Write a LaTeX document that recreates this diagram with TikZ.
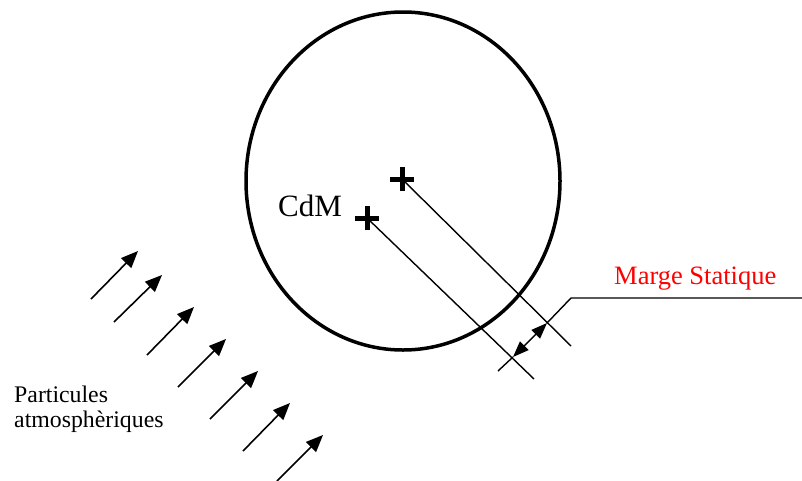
\documentclass[tikz,border=0pt]{standalone}
\usepackage{fontspec}
\setmainfont{Liberation Serif}
\usetikzlibrary{arrows.meta}
\begin{document}
\begin{tikzpicture}[x=1pt,y=-1pt,
  thinline/.style={line width=1.4pt},
  crossmark/.style={line width=5pt},
  flowarrow/.style={line width=1.6pt,-{Triangle[length=17pt,width=14pt]}},
  lbl/.style={inner sep=0pt,anchor=base west}]
\useasboundingbox (0,0) rectangle (802,480);
% body
\draw[line width=3.5pt] (403,181) ellipse [x radius=157, y radius=169];
% centres
\coordinate (c1) at (402,179);
\coordinate (c2) at (367,218);
\draw[crossmark] ([xshift=-12pt]c1) -- ([xshift=12pt]c1) ([yshift=-12pt]c1) -- ([yshift=12pt]c1);
\draw[crossmark] ([xshift=-12pt]c2) -- ([xshift=12pt]c2) ([yshift=-12pt]c2) -- ([yshift=12pt]c2);
\coordinate (e1) at (571,346);
\coordinate (e2) at (534,379);
\draw[thinline] (c1) -- (e1);
\draw[thinline] (c2) -- (e2);
% margin dimension
\coordinate (m0) at (498,371);
\coordinate (m1) at (513,357);
\coordinate (m2) at (547,323);
\coordinate (m3) at (571,298);
\coordinate (m4) at (802,298);
\draw[thinline] (m0) -- (m1);
\draw[thinline,{Triangle[length=16pt,width=12pt]}-{Triangle[length=16pt,width=12pt]}] (m1) -- (m2);
\draw[thinline] (m2) -- (m3) -- (m4);
% labels
\node[lbl,font=\fontsize{31}{34}\selectfont] (cdm) at (278,216) {CdM};
\node[lbl,font=\fontsize{26.5}{29}\selectfont,text=red] (ms) at (614,284) {Marge Statique};
\node[lbl,font=\fontsize{23.8}{25}\selectfont,align=left] (pa) at (14,427) {Particules\\atmosphèriques};
% particle arrows
\foreach \i/\tx/\ty/\hx/\hy in {1/91/299/138/251, 2/114/322/162/275, 3/147/355/194/307, 4/178/387/226/339, 5/210/419/258/371, 6/243/451/290/403, 7/277/481/323/435} {
  \coordinate (t\i) at (\tx,\ty);
  \coordinate (h\i) at (\hx,\hy);
  \draw[flowarrow] (t\i) -- (h\i);
}
\end{tikzpicture}
\end{document}
